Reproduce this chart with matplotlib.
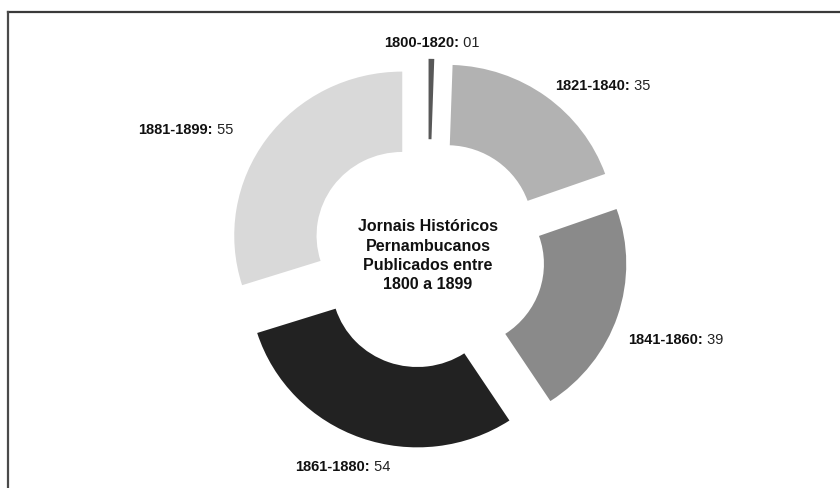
import matplotlib.pyplot as plt
import numpy as np

# Dados do gráfico
periodos = ["1800-1820", "1821-1840", "1841-1860", "1861-1880", "1881-1899"]
quantidades = [1, 35, 39, 54, 55]
rotulos_valor = ["01", "35", "39", "54", "55"]
cores = ["#585858", "#b2b2b2", "#8a8a8a", "#222222", "#d9d9d9"]
titulo_centro = "Jornais Históricos\nPernambucanos\nPublicados entre\n1800 a 1899"

# pequenos ajustes (px) na posição dos rótulos
ajuste_rotulos = [(0, 5), (-4, 7), (-10, 17), (-11, 9), (-16, 4)]

fonte = ["Liberation Sans", "DejaVu Sans"]

fig = plt.figure(figsize=(8.4, 4.88), dpi=100, facecolor="white")
ax = fig.add_axes([0, 0, 1, 1])

wedges, _ = ax.pie(
    quantidades,
    colors=cores,
    startangle=90,
    counterclock=False,
    explode=[0.19] * len(quantidades),
    radius=1,
    wedgeprops=dict(width=0.49, linewidth=0),
)

# escala: raio ~168 px (horiz.) x 164 px (vert.), centro em (428, 254) px
Rx, Ry = 168, 164
cx0, cy0 = 428, 254
ax.set_xlim(-cx0 / Rx, (840 - cx0) / Rx)
ax.set_ylim(-(488 - cy0) / Ry, cy0 / Ry)
ax.set_aspect("auto")
ax.axis("off")

# Texto central
ax.text(0, -0.01, titulo_centro, ha="center", va="center",
        fontsize=11.5, fontweight="bold", family=fonte,
        linespacing=1.35, color="#111111")

# Rótulos: período em negrito + valor normal
renderer = fig.canvas.get_renderer()
inv = ax.transData.inverted()
for w, per, val, (dx, dy) in zip(wedges, periodos, rotulos_valor, ajuste_rotulos):
    ang = np.deg2rad((w.theta1 + w.theta2) / 2)
    lx, ly = 1.32 * np.cos(ang), 1.32 * np.sin(ang)
    if abs(np.cos(ang)) < 0.4:
        frac = 0.5
    elif np.cos(ang) > 0:
        frac = 0.0
    else:
        frac = 1.0
    tb = ax.text(0, 0, per + ":", fontsize=10.5, fontweight="bold",
                 family=fonte, va="center", ha="left", color="#111111")
    tr = ax.text(0, 0, " " + val, fontsize=10.5, family=fonte,
                 va="center", ha="left", color="#222222")
    wb = tb.get_window_extent(renderer).width
    wr = tr.get_window_extent(renderer).width
    px, py = ax.transData.transform((lx, ly))
    x0 = px - (wb + wr) * frac + dx
    py = py - dy
    tb.set_position(inv.transform((x0, py)))
    tr.set_position(inv.transform((x0 + wb, py)))

# Moldura parcial (topo e esquerda)
fig.add_artist(plt.Line2D([8 / 840, 1], [1 - 12 / 488, 1 - 12 / 488],
                          color="#3a3a3a", linewidth=1.6, transform=fig.transFigure))
fig.add_artist(plt.Line2D([8 / 840, 8 / 840], [0, 1 - 12 / 488],
                          color="#4a4a4a", linewidth=1.6, transform=fig.transFigure))

fig.savefig("out.png", dpi=100, facecolor="white")
